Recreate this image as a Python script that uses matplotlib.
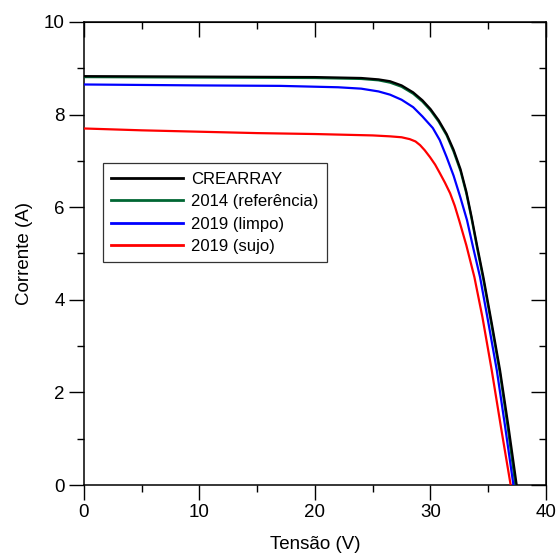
import numpy as np
import matplotlib
matplotlib.use("Agg")
import matplotlib.pyplot as plt

plt.rcParams['font.family'] = ['Liberation Sans', 'DejaVu Sans']

# curvas I-V
v_crearray = [0, 10, 20, 24, 25.5, 26.5, 27.5, 28.5, 29.3, 30.0, 30.7, 31.4, 32.0, 32.6, 33.1, 33.55,
              34.05, 34.58, 35.3, 36.02, 36.74, 37.46]
i_crearray = [8.83, 8.82, 8.81, 8.79, 8.76, 8.72, 8.63, 8.48, 8.31, 8.12, 7.88, 7.58, 7.24, 6.82, 6.34, 5.80,
              5.15, 4.49, 3.50, 2.48, 1.28, 0.0]

v_2014 = [0, 10, 20, 24, 25.5, 26.5, 27.5, 28.5, 29.3, 30.0, 30.7, 31.4, 32.0, 32.6, 33.1, 33.55,
          34.05, 34.58, 35.3, 36.02, 36.7, 37.35]
i_2014 = [8.81, 8.80, 8.79, 8.77, 8.74, 8.69, 8.60, 8.45, 8.28, 8.09, 7.85, 7.55, 7.20, 6.78, 6.30, 5.76,
          5.10, 4.43, 3.43, 2.40, 1.22, 0.0]

v_limpo = [0, 10, 17, 22, 24, 25.5, 26.5, 27.5, 28.5, 29.3, 30.2, 30.8, 31.4, 32.0, 32.6, 33.16,
           33.7, 34.29, 35.0, 35.74, 36.45, 37.18]
i_limpo = [8.65, 8.63, 8.62, 8.59, 8.56, 8.50, 8.43, 8.32, 8.16, 7.96, 7.71, 7.45, 7.08, 6.68, 6.20, 5.72,
           5.12, 4.49, 3.52, 2.48, 1.28, 0.0]

v_sujo = [0, 5, 10, 15, 20, 25, 26.5, 27.5, 28.2, 28.7, 29.1, 29.5, 29.96, 30.4, 30.8, 31.25, 31.7,
          32.1, 32.5, 33.1, 33.8, 34.5, 35.3, 36.1, 36.94]
i_sujo = [7.70, 7.66, 7.63, 7.60, 7.58, 7.55, 7.53, 7.51, 7.47, 7.42, 7.34, 7.23, 7.08, 6.92, 6.74, 6.53, 6.30,
          6.03, 5.70, 5.18, 4.49, 3.62, 2.48, 1.25, 0.0]

fig = plt.figure(figsize=(5.58, 5.55), dpi=100)
ax = fig.add_axes([0.1505, 0.1261, 0.828, 0.8343])

ax.plot(v_crearray, i_crearray, color='black', lw=1.6, label='CREARRAY', zorder=4)
ax.plot(v_2014, i_2014, color='#006633', lw=1.6, label='2014 (referência)', zorder=3)
ax.plot(v_limpo, i_limpo, color='#0000ff', lw=1.6, label='2019 (limpo)', zorder=3)
ax.plot(v_sujo, i_sujo, color='#ff0000', lw=1.6, label='2019 (sujo)', zorder=3)

ax.set_xlim(0, 40)
ax.set_ylim(0, 10)
ax.set_xticks([0, 10, 20, 30, 40])
ax.set_yticks([0, 2, 4, 6, 8, 10])
ax.set_xticks(np.arange(5, 40, 10), minor=True)
ax.set_yticks(np.arange(1, 10, 2), minor=True)
ax.tick_params(which='major', direction='out', length=10.5, width=1, labelsize=13.5)
ax.tick_params(which='minor', direction='out', length=5, width=1)
for s in ax.spines.values():
    s.set_linewidth(1.1)

# ticks para dentro no topo e na direita
top = ax.secondary_xaxis('top')
top.set_xticks([0, 10, 20, 30, 40])
top.set_xticks(np.arange(5, 40, 10), minor=True)
top.tick_params(which='major', direction='in', length=10.5, width=1, labeltop=False)
top.tick_params(which='minor', direction='in', length=5, width=1)
right = ax.secondary_yaxis('right')
right.set_yticks([0, 2, 4, 6, 8, 10])
right.set_yticks(np.arange(1, 10, 2), minor=True)
right.tick_params(which='major', direction='in', length=10.5, width=1, labelright=False)
right.tick_params(which='minor', direction='in', length=5, width=1)

ax.set_xlabel('Tensão (V)', fontsize=13.5, labelpad=10.5)
ax.set_ylabel('Corrente (A)', fontsize=13.5, labelpad=7.5)

leg = ax.legend(loc='upper left', bbox_to_anchor=(0.041, 0.695), fontsize=12,
                frameon=True, fancybox=False, borderaxespad=0, handlelength=4.3,
                labelspacing=0.45, handletextpad=0.5, borderpad=0.5)
leg.get_frame().set_edgecolor('black')
leg.get_frame().set_linewidth(0.9)
for l in leg.get_lines():
    l.set_linewidth(2)

fig.savefig('out.png', dpi=100)
